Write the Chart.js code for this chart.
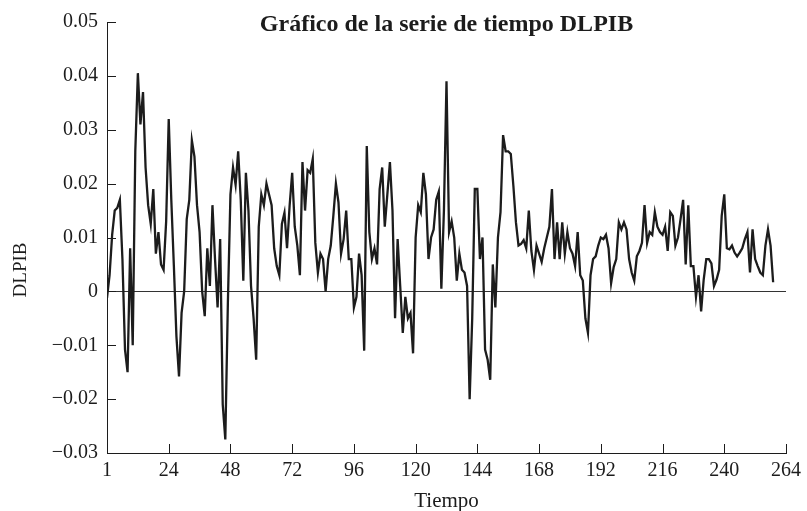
<!DOCTYPE html>
<html>
<head>
<meta charset="utf-8">
<script src="https://cdn.jsdelivr.net/npm/chart.js@4"></script>
<style>
  html, body { margin: 0; padding: 0; background: #fff; }
  #wrap { width: 807px; height: 511px; }
</style>
</head>
<body>
<div id="wrap"><canvas id="dlpibChart" width="807" height="511"></canvas></div>
<script>
const chartTitle = 'Gráfico de la serie de tiempo DLPIB';
const xTitle = 'Tiempo';
const yTitle = 'DLPIB';

// tick positions (0 is shown as observation "1")
const xTicks = [0, 24, 48, 72, 96, 120, 144, 168, 192, 216, 240, 264];
const yTicks = [-0.03, -0.02, -0.01, 0, 0.01, 0.02, 0.03, 0.04, 0.05];

// first difference of log GDP, quarterly observations
const dlpib = [
  -0.0012, 0.003, 0.0105, 0.015, 0.0155, 0.017, 0.006, -0.0108, -0.015, 0.008,
  -0.010, 0.026, 0.0405, 0.031, 0.037, 0.023, 0.016, 0.0125, 0.019, 0.007,
  0.011, 0.005, 0.004, 0.013, 0.032, 0.017, 0.0047, -0.0084, -0.0158, -0.004,
  0.000, 0.0134, 0.017, 0.028, 0.025, 0.016, 0.011, 0.000, -0.0046, 0.008,
  0.001, 0.016, 0.006, -0.003, 0.0097, -0.021, -0.0275, -0.002, 0.018, 0.023,
  0.0198, 0.026, 0.017, 0.002, 0.022, 0.015, 0.001, -0.005, -0.0127, 0.012,
  0.018, 0.016, 0.020, 0.018, 0.016, 0.008, 0.0047, 0.003, 0.0125, 0.0146,
  0.008, 0.0159, 0.022, 0.012, 0.0085, 0.003, 0.024, 0.015, 0.0225, 0.022,
  0.0246, 0.009, 0.0035, 0.007, 0.006, 0.000, 0.006, 0.0085, 0.014, 0.020,
  0.0165, 0.007, 0.0097, 0.015, 0.006, 0.006, -0.003, -0.001, 0.007, 0.003,
  -0.011, 0.027, 0.011, 0.006, 0.008, 0.005, 0.019, 0.023, 0.012, 0.018,
  0.024, 0.015, -0.005, 0.0097, 0.001, -0.0077, -0.001, -0.005, -0.004, -0.0115,
  0.010, 0.016, 0.0147, 0.022, 0.018, 0.006, 0.010, 0.0115, 0.017, 0.0185,
  0.0005, 0.015, 0.039, 0.011, 0.013, 0.010, 0.002, 0.007, 0.004, 0.0035,
  0.001, -0.020, -0.005, 0.019, 0.019, 0.006, 0.010, -0.0108, -0.0127, -0.0164,
  0.005, -0.003, 0.010, 0.0147, 0.029, 0.026, 0.026, 0.0255, 0.0196, 0.0128,
  0.0085, 0.0088, 0.0095, 0.008, 0.015, 0.0075, 0.004, 0.0085, 0.007, 0.0055,
  0.008, 0.010, 0.012, 0.019, 0.006, 0.0128, 0.006, 0.0128, 0.007, 0.011,
  0.008, 0.007, 0.0047, 0.011, 0.003, 0.002, -0.005, -0.0077, 0.003, 0.006,
  0.0065, 0.0085, 0.010, 0.0097, 0.0105, 0.008, 0.0015, 0.0045, 0.006, 0.0128,
  0.0115, 0.0128, 0.0115, 0.006, 0.0035, 0.002, 0.0065, 0.0075, 0.009, 0.016,
  0.009, 0.011, 0.0105, 0.0147, 0.012, 0.011, 0.0105, 0.012, 0.0075, 0.0147,
  0.014, 0.0085, 0.010, 0.0134, 0.017, 0.005, 0.016, 0.0047, 0.0047, -0.001,
  0.003, -0.0037, 0.0022, 0.006, 0.006, 0.0052, 0.001, 0.0022, 0.004, 0.014,
  0.018, 0.008, 0.0078, 0.0085, 0.0072, 0.0065, 0.0072, 0.008, 0.0097, 0.011,
  0.0035, 0.0115, 0.006, 0.0047, 0.0035, 0.003, 0.0085, 0.0115, 0.0085, 0.0017
];

const ink = '#1c1c1c';
const serif = '"Liberation Serif", "DejaVu Serif", serif';

const fmtY = v => {
  if (Math.abs(v) < 1e-9) return '0';
  return (v < 0 ? '\u2212' : '') + Math.abs(v).toFixed(2);
};

// inward tick marks plus the chart and axis titles
const decorations = {
  id: 'decorations',
  afterDraw(chart) {
    const { ctx, chartArea: a, scales: { x, y } } = chart;
    ctx.save();
    ctx.strokeStyle = ink;
    ctx.lineWidth = 1;
    ctx.beginPath();
    yTicks.forEach(v => {
      const py = Math.round(y.getPixelForValue(v)) + 0.5;
      ctx.moveTo(a.left, py);
      ctx.lineTo(a.left + 9, py);
    });
    xTicks.forEach(v => {
      const px = Math.round(x.getPixelForValue(v)) + 0.5;
      ctx.moveTo(px, a.bottom);
      ctx.lineTo(px, a.bottom - 9);
    });
    ctx.stroke();

    ctx.fillStyle = ink;
    ctx.textAlign = 'center';
    ctx.textBaseline = 'middle';
    ctx.font = 'bold 24px ' + serif;
    ctx.fillText(chartTitle, (a.left + a.right) / 2, 25);

    ctx.font = '21px ' + serif;
    ctx.fillText(xTitle, (a.left + a.right) / 2, 501);

    ctx.font = '19px ' + serif;
    ctx.translate(21, 270);
    ctx.rotate(-Math.PI / 2);
    ctx.fillText(yTitle, 0, 0);
    ctx.restore();
  }
};

new Chart(document.getElementById('dlpibChart'), {
  type: 'line',
  data: {
    datasets: [{
      label: 'DLPIB',
      data: dlpib.map((v, i) => ({ x: i, y: v })),
      borderColor: ink,
      borderWidth: 2.3,
      pointRadius: 0,
      tension: 0,
      fill: false
    }]
  },
  options: {
    responsive: false,
    animation: false,
    devicePixelRatio: 1,
    layout: { padding: { left: 0, top: 22, right: 20, bottom: 0 } },
    plugins: {
      legend: { display: false },
      title: { display: false },
      tooltip: { enabled: false }
    },
    scales: {
      x: {
        type: 'linear',
        min: 0,
        max: 264,
        afterBuildTicks: s => { s.ticks = xTicks.map(v => ({ value: v })); },
        afterFit: s => { s.height = 58; },
        grid: { display: false, drawTicks: false },
        border: { display: true, color: ink, width: 1 },
        ticks: {
          padding: 6,
          color: ink,
          font: { family: serif, size: 20 },
          maxRotation: 0,
          autoSkip: false,
          callback: v => (v === 0 ? '1' : String(v))
        }
      },
      y: {
        min: -0.03,
        max: 0.05,
        afterBuildTicks: s => { s.ticks = yTicks.map(v => ({ value: v })); },
        afterFit: s => { s.width = 107; },
        grid: {
          drawTicks: false,
          lineWidth: 1,
          color: c => (c.tick && Math.abs(c.tick.value) < 1e-9 ? '#333' : 'rgba(0,0,0,0)')
        },
        border: { display: true, color: ink, width: 1 },
        ticks: {
          padding: 9,
          color: ink,
          font: { family: serif, size: 20 },
          autoSkip: false,
          callback: fmtY
        }
      }
    }
  },
  plugins: [decorations]
});
</script>
</body>
</html>
